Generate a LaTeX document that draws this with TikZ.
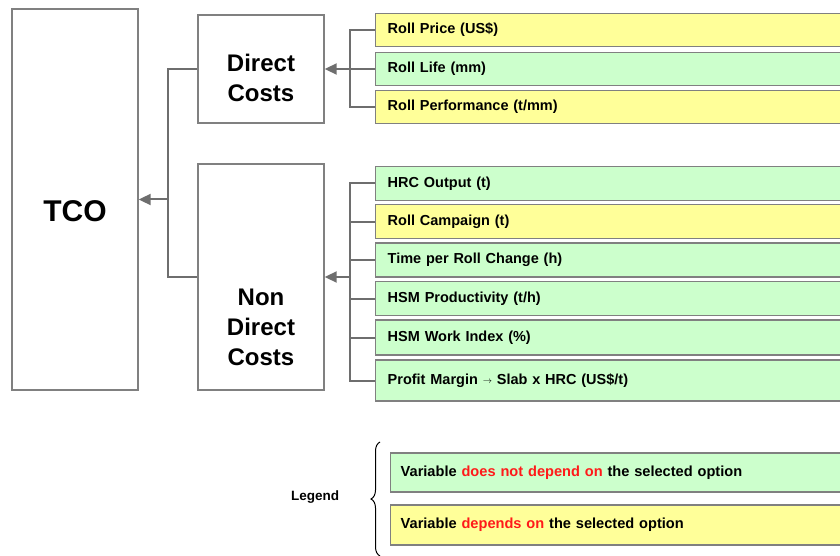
\documentclass[tikz,border=0pt]{standalone}
\usepackage{fontspec}
\setmainfont{Liberation Sans}
\usetikzlibrary{positioning, arrows.meta, decorations.pathreplacing}

\definecolor{fixgreen}{HTML}{CCFFCC}
\definecolor{optyellow}{HTML}{FFFF99}
\definecolor{boxgray}{HTML}{808080}
\definecolor{wiregray}{HTML}{6E6E6E}
\definecolor{hotred}{HTML}{FF1A1A}

\tikzset{
  costbox/.style={draw=boxgray, line width=1.4pt, fill=white, minimum width=126pt},
  costtext/.style={align=center, font=\bfseries\fontsize{24}{30}\selectfont},
  item/.style={draw=boxgray, line width=1.4pt, anchor=west, inner xsep=12pt, inner ysep=0pt, text width=456pt, align=left, font=\bfseries\fontsize{14.5}{17}\selectfont},
  legbox/.style={item, inner xsep=10pt, font=\bfseries\fontsize{14.6}{18}\selectfont},
  wire/.style={draw=wiregray, line width=2pt},
  tip/.style={wire, -{Triangle[length=12pt, width=11pt]}},
}

\begin{document}
\begin{tikzpicture}[x=1pt, y=-1pt]
    \useasboundingbox (0,0) rectangle (840,556);
    \clip (0,0) rectangle (840,556);

    % Cost boxes
    \node[costbox, minimum height=381pt] (tco) at (75,199.5) {};
    \node[costbox, minimum height=108pt] (direct) at (261,69) {};
    \node[costbox, minimum height=226pt] (nondirect) at (261,277) {};
    \node[costtext, font=\bfseries\fontsize{30}{36}\selectfont] (tcotxt) at (75,211) {TCO};
    \node[costtext] (directtxt) at (261,78) {Direct\\Costs};
    \node[costtext] (nondirecttxt) at (261,327) {Non\\Direct\\Costs};

    % Direct cost variables
    \node[item, fill=optyellow, minimum height=33pt] (d1) at (375,30) {Roll Price (US\$)};
    \node[item, fill=fixgreen, minimum height=33pt] (d2) at (375,69) {Roll Life (mm)};
    \node[item, fill=optyellow, minimum height=33pt] (d3) at (375,107) {Roll Performance (t/mm)};

    % Non direct cost variables
    \node[item, fill=fixgreen, minimum height=34pt] (n1) at (375,183.5) {HRC Output (t)};
    \node[item, fill=optyellow, minimum height=34pt] (n2) at (375,221.5) {Roll Campaign (t)};
    \node[item, fill=fixgreen, minimum height=34pt] (n3) at (375,260) {Time per Roll Change (h)};
    \node[item, fill=fixgreen, minimum height=34pt] (n4) at (375,298.5) {HSM Productivity (t/h)};
    \node[item, fill=fixgreen, minimum height=35pt] (n5) at (375,337.5) {HSM Work Index (\%)};
    \node[item, fill=fixgreen, minimum height=41pt] (n6) at (375,380.5) {Profit Margin \raisebox{1pt}{\fontsize{9}{9}\selectfont$\rightarrow$} Slab x HRC (US\$/t)};

    % Connectors
    \coordinate (dbus) at (350,69);
    \coordinate (nbus) at (350,277);
    \coordinate (tbus) at (168,199.5);
    \foreach \n in {d1,d2,d3} \draw[wire] (\n.west) -| (dbus);
    \foreach \n in {n1,n2,n3,n4,n5,n6} \draw[wire] (\n.west) -| (nbus);
    \draw[tip] (dbus) -- (direct.east);
    \draw[tip] (nbus) -- (nondirect.east);
    \draw[wire] (direct.west) -| (tbus);
    \draw[wire] (nondirect.west) -| (tbus);
    \draw[tip] (tbus) -- (tco.east);

    % Legend
    \node[font=\bfseries\fontsize{13.5}{16}\selectfont] (legend) at (315,497) {Legend};
    \draw[decorate, decoration={brace, amplitude=9pt}, line width=1pt] (380,556) -- (380,442);
    \node[legbox, fill=fixgreen, minimum height=39pt] (leg1) at (390,472.5) {Variable \textcolor{hotred}{does not depend on} the selected option};
    \node[legbox, fill=optyellow, minimum height=40pt] (leg2) at (390,525) {Variable \textcolor{hotred}{depends on} the selected option};
\end{tikzpicture}
\end{document}
